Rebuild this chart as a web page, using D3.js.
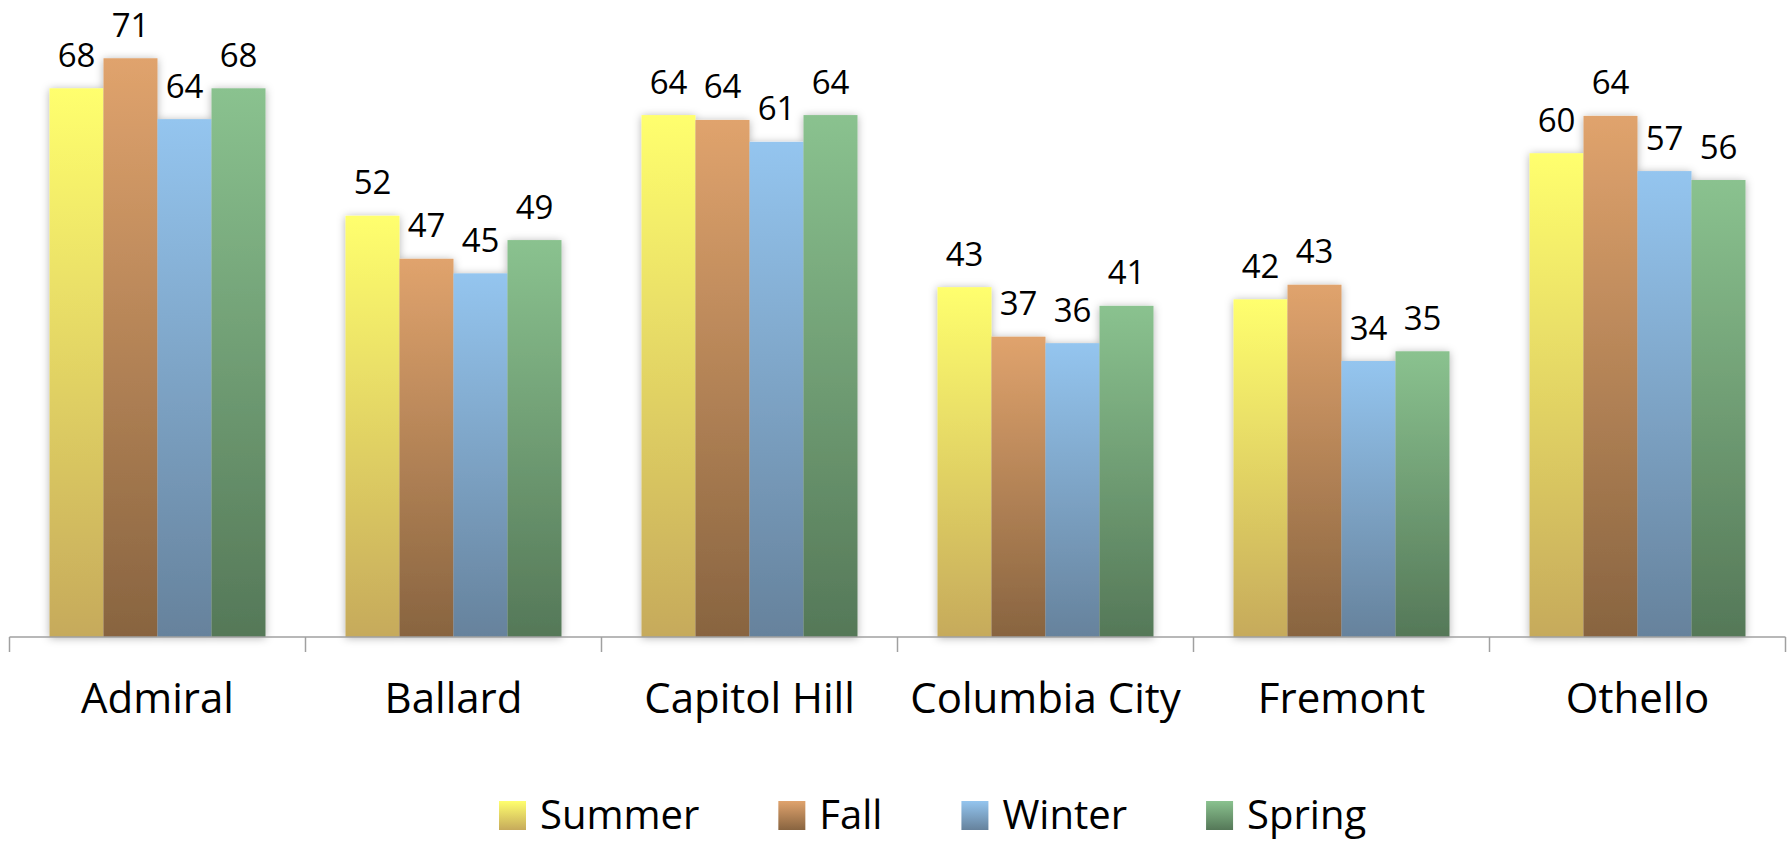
<!DOCTYPE html>
<html>
<head>
<meta charset="utf-8">
<script src="https://cdn.jsdelivr.net/npm/d3@7"></script>
<style>
  html, body { margin: 0; padding: 0; background: #fff; }
  svg { display: block; font-family: "Open Sans", sans-serif; }
</style>
</head>
<body>
<svg id="chart" width="1792" height="841"></svg>
<script>
const categories = ["Admiral", "Ballard", "Capitol Hill", "Columbia City", "Fremont", "Othello"];
const seriesNames = ["Summer", "Fall", "Winter", "Spring"];
const summer = [67.6, 51.9, 64.3, 43.1, 41.6, 59.6];
const fall   = [71.3, 46.6, 63.7, 37.0, 43.4, 64.2];
const winter = [63.8, 44.8, 61.0, 36.2, 34.0, 57.4];
const spring = [67.6, 48.9, 64.3, 40.8, 35.2, 56.3];
const seriesValues = [summer, fall, winter, spring];
const gradTop    = ["#FFFF6E", "#E0A36D", "#94C5EF", "#8AC28F"];
const gradBottom = ["#C6AA5B", "#886440", "#66829C", "#557858"];

const svg = d3.select("#chart");
const axisY = 637;

const x0 = d3.scaleBand().domain(categories).range([9.5, 1785.5]).padding(0);
const x1 = d3.scaleBand().domain(seriesNames).range([40, 256]).padding(0);
const y = d3.scaleLinear().domain([0, 75]).range([axisY, axisY - 75 * 8.117]);

const defs = svg.append("defs");
seriesNames.forEach((s, i) => {
  const g = defs.append("linearGradient").attr("id", "grad" + i)
    .attr("x1", 0).attr("y1", 0).attr("x2", 0).attr("y2", 1);
  g.append("stop").attr("offset", "0%").attr("stop-color", gradTop[i]);
  g.append("stop").attr("offset", "100%").attr("stop-color", gradBottom[i]);
});
const f = defs.append("filter").attr("id", "shadow")
  .attr("x", "-20%").attr("y", "-20%").attr("width", "140%").attr("height", "140%");
f.append("feDropShadow").attr("dx", 0).attr("dy", 1).attr("stdDeviation", 4)
  .attr("flood-color", "#000").attr("flood-opacity", 0.3);

const data = categories.map((c, ci) => ({
  cat: c,
  vals: seriesNames.map((s, si) => ({ s, si, v: seriesValues[si][ci] }))
}));

const groups = svg.append("g").selectAll("g.grp").data(data).join("g")
  .attr("class", "grp")
  .attr("transform", d => `translate(${x0(d.cat)},0)`);

groups.append("g").attr("filter", "url(#shadow)")
  .selectAll("rect").data(d => d.vals).join("rect")
  .attr("x", d => x1(d.s))
  .attr("y", d => y(d.v))
  .attr("width", x1.bandwidth())
  .attr("height", d => y(0) - y(d.v))
  .attr("fill", d => `url(#grad${d.si})`);

groups.selectAll("text.lbl").data(d => d.vals).join("text")
  .attr("class", "lbl")
  .attr("x", d => x1(d.s) + x1.bandwidth() / 2)
  .attr("y", d => y(d.v) - 21.5)
  .attr("text-anchor", "middle")
  .attr("font-size", 33)
  .attr("fill", "#000")
  .text(d => d3.format(".0f")(d.v));

// Category axis
const axis = svg.append("g").attr("transform", `translate(0,${axisY})`)
  .call(d3.axisBottom(x0).tickSize(0).tickFormat(""));
axis.select(".domain").attr("stroke", "#A0A0A0").attr("stroke-width", 1.5)
  .attr("d", `M${x0.range()[0]},0H${x0.range()[1]}`);
const bounds = categories.map(c => x0(c)).concat([x0.range()[1]]);
axis.selectAll("line.sep").data(bounds).join("line")
  .attr("class", "sep")
  .attr("x1", d => d).attr("x2", d => d)
  .attr("y1", 0).attr("y2", 15)
  .attr("stroke", "#A0A0A0").attr("stroke-width", 1.5);
svg.append("g").selectAll("text.cat").data(categories).join("text")
  .attr("class", "cat")
  .attr("x", d => x0(d) + x0.bandwidth() / 2)
  .attr("y", 713)
  .attr("text-anchor", "middle")
  .attr("font-size", 42)
  .attr("fill", "#000")
  .text(d => d);

// Legend
const legend = svg.append("g");
let lx = 499;
seriesNames.forEach((s, i) => {
  const item = legend.append("g").attr("transform", `translate(${lx},0)`);
  item.append("rect").attr("x", 0).attr("y", 801).attr("width", 27).attr("height", 29)
    .attr("fill", `url(#grad${i})`);
  const t = item.append("text").attr("x", 41).attr("y", 829)
    .attr("font-size", 40).attr("fill", "#000").text(s);
  lx += 41 + t.node().getComputedTextLength() + 79;
});
</script>
</body>
</html>
